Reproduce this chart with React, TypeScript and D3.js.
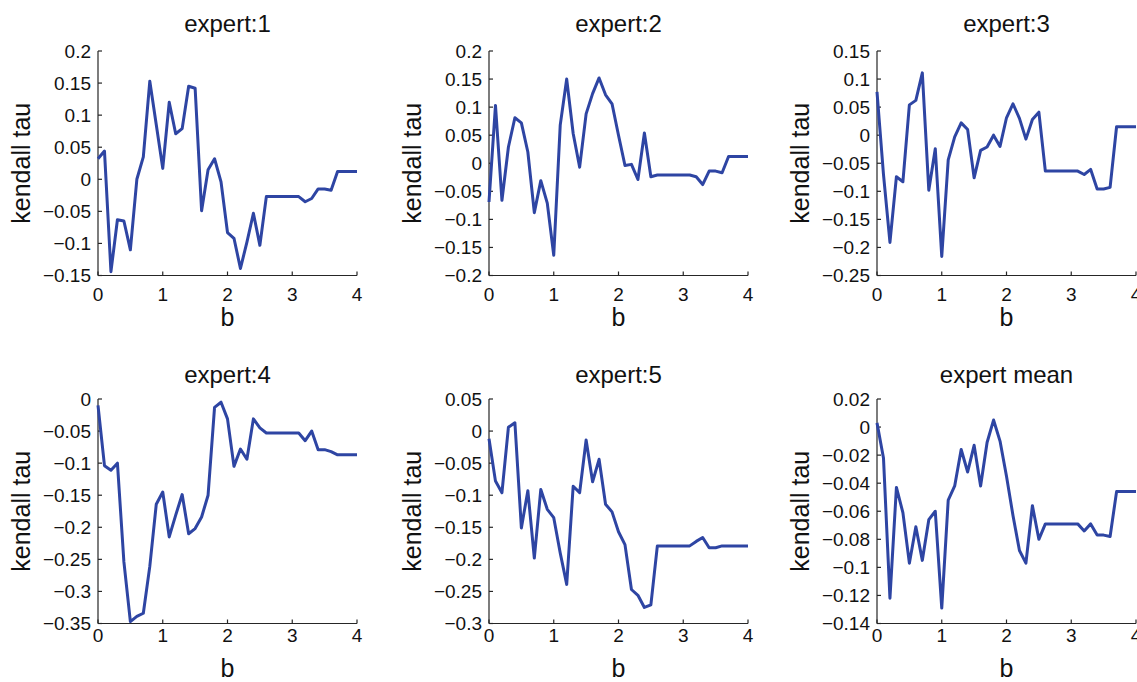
import React from 'react';
import * as d3 from 'd3';

// b values (x) shared by all panels
const bValues = [
  0, 0.1, 0.2, 0.3, 0.4, 0.5, 0.6, 0.7, 0.8, 0.9, 1.0,
  1.1, 1.2, 1.3, 1.4, 1.5, 1.6, 1.7, 1.8, 1.9, 2.0,
  2.1, 2.2, 2.3, 2.4, 2.5, 2.6, 2.7, 2.8, 2.9, 3.0,
  3.1, 3.2, 3.3, 3.4, 3.5, 3.6, 3.7, 3.8, 3.9, 4.0,
];
const xTicks = [0, 1, 2, 3, 4];

// kendall tau per expert
const expert1 = [
  0.032, 0.044, -0.144, -0.063, -0.065, -0.11, 0.0, 0.035, 0.153, 0.085, 0.017,
  0.12, 0.071, 0.079, 0.145, 0.142, -0.049, 0.015, 0.032, -0.004, -0.083,
  -0.092, -0.139, -0.098, -0.053, -0.103, -0.027, -0.027, -0.027, -0.027, -0.027,
  -0.027, -0.035, -0.03, -0.015, -0.015, -0.017, 0.012, 0.012, 0.012, 0.012,
];
const expert2 = [
  -0.069, 0.103, -0.066, 0.029, 0.081, 0.072, 0.02, -0.088, -0.031, -0.071, -0.164,
  0.068, 0.15, 0.053, -0.007, 0.088, 0.124, 0.152, 0.122, 0.106, 0.05,
  -0.004, -0.002, -0.029, 0.054, -0.024, -0.021, -0.021, -0.021, -0.021, -0.021,
  -0.021, -0.024, -0.038, -0.014, -0.014, -0.017, 0.012, 0.012, 0.012, 0.012,
];
const expert3 = [
  0.077, -0.07, -0.191, -0.074, -0.083, 0.054, 0.062, 0.111, -0.098, -0.024, -0.216,
  -0.044, -0.003, 0.022, 0.01, -0.076, -0.027, -0.021, 0.0, -0.02, 0.031,
  0.056, 0.03, -0.007, 0.028, 0.041, -0.064, -0.064, -0.064, -0.064, -0.064,
  -0.064, -0.07, -0.061, -0.096, -0.096, -0.093, 0.015, 0.015, 0.015, 0.015,
];
const expert4 = [
  -0.01, -0.104, -0.111, -0.1, -0.254, -0.347, -0.339, -0.334, -0.261, -0.164, -0.145,
  -0.215, -0.181, -0.149, -0.21, -0.202, -0.184, -0.15, -0.013, -0.005, -0.031,
  -0.105, -0.078, -0.094, -0.031, -0.045, -0.053, -0.053, -0.053, -0.053, -0.053,
  -0.053, -0.065, -0.05, -0.079, -0.079, -0.082, -0.087, -0.087, -0.087, -0.087,
];
const expert5 = [
  -0.012, -0.078, -0.096, 0.006, 0.013, -0.151, -0.093, -0.198, -0.091, -0.122, -0.135,
  -0.19, -0.239, -0.086, -0.096, -0.014, -0.079, -0.044, -0.114, -0.126, -0.157,
  -0.177, -0.247, -0.256, -0.275, -0.271, -0.179, -0.179, -0.179, -0.179, -0.179,
  -0.179, -0.172, -0.166, -0.182, -0.182, -0.179, -0.179, -0.179, -0.179, -0.179,
];
const expertMean = [
  0.003, -0.022, -0.122, -0.043, -0.061, -0.097, -0.071, -0.095, -0.066, -0.06, -0.129,
  -0.052, -0.042, -0.016, -0.032, -0.013, -0.042, -0.011, 0.005, -0.01, -0.035,
  -0.063, -0.088, -0.097, -0.056, -0.08, -0.069, -0.069, -0.069, -0.069, -0.069,
  -0.069, -0.074, -0.069, -0.077, -0.077, -0.078, -0.046, -0.046, -0.046, -0.046,
];

// y tick labels per panel
const yTicks1 = [-0.15, -0.1, -0.05, 0, 0.05, 0.1, 0.15, 0.2];
const yTicks2 = [-0.2, -0.15, -0.1, -0.05, 0, 0.05, 0.1, 0.15, 0.2];
const yTicks3 = [-0.25, -0.2, -0.15, -0.1, -0.05, 0, 0.05, 0.1, 0.15];
const yTicks4 = [-0.35, -0.3, -0.25, -0.2, -0.15, -0.1, -0.05, 0];
const yTicks5 = [-0.3, -0.25, -0.2, -0.15, -0.1, -0.05, 0, 0.05];
const yTicks6 = [-0.14, -0.12, -0.1, -0.08, -0.06, -0.04, -0.02, 0, 0.02];

const titles = ['expert:1', 'expert:2', 'expert:3', 'expert:4', 'expert:5', 'expert mean'];
const series = [expert1, expert2, expert3, expert4, expert5, expertMean];
const yTickSets = [yTicks1, yTicks2, yTicks3, yTicks4, yTicks5, yTicks6];

// layout
const W = 1137;
const H = 682;
const colLeft = [98, 489, 877];
const rowTop = [51, 399];
const plotW = 259;
const plotH = 224.5;
const titleDy = [19, 16.5];
const tickDy = [25, 18];
const xLabelDy = [50, 53];

const FONT = '"Liberation Sans", Arial, Helvetica, sans-serif';
const LINE = '#2e45a3';
const AXIS = '#262626';

const fmt = (v: number) => {
  if (Math.abs(v) < 1e-9) return '0';
  const s = String(+v.toFixed(3));
  return s.replace('-', '\u2212');
};

const Panel = ({ idx }: { idx: number }) => {
  const col = idx % 3;
  const row = Math.floor(idx / 3);
  const left = colLeft[col];
  const top = rowTop[row];
  const ticks = yTickSets[idx];
  const values = series[idx];

  const x = d3.scaleLinear().domain([0, 4]).range([left, left + plotW]);
  const y = d3
    .scaleLinear()
    .domain([ticks[0], ticks[ticks.length - 1]])
    .range([top + plotH, top]);

  const line = d3
    .line<number>()
    .x((_, i) => x(bValues[i]))
    .y((d) => y(d));

  const bottom = top + plotH;
  const cx = left + plotW / 2;

  return (
    <g>
      <text
        x={cx}
        y={top - titleDy[row]}
        textAnchor="middle"
        fontSize={24}
        fontFamily={FONT}
        fill="#111"
      >
        {titles[idx]}
      </text>

      {/* axes lines */}
      <line x1={left} x2={left} y1={top} y2={bottom} stroke={AXIS} strokeWidth={1.2} />
      <line x1={left} x2={left + plotW} y1={bottom} y2={bottom} stroke={AXIS} strokeWidth={1.2} />

      {/* y ticks */}
      {ticks.map((t) => (
        <g key={'y' + t}>
          <line x1={left} x2={left + 4} y1={y(t)} y2={y(t)} stroke={AXIS} strokeWidth={1.2} />
          <text
            x={left - 7}
            y={y(t)}
            dy="0.36em"
            textAnchor="end"
            fontSize={19}
            fontFamily={FONT}
            fill="#111"
          >
            {fmt(t)}
          </text>
        </g>
      ))}

      {/* x ticks */}
      {xTicks.map((t) => (
        <g key={'x' + t}>
          <line x1={x(t)} x2={x(t)} y1={bottom} y2={bottom - 4} stroke={AXIS} strokeWidth={1.2} />
          <text
            x={x(t)}
            y={bottom + tickDy[row]}
            textAnchor="middle"
            fontSize={19}
            fontFamily={FONT}
            fill="#111"
          >
            {t}
          </text>
        </g>
      ))}

      <text
        x={cx}
        y={bottom + xLabelDy[row]}
        textAnchor="middle"
        fontSize={25}
        fontFamily={FONT}
        fill="#111"
      >
        b
      </text>
      <text
        transform={`translate(${left - 68},${top + plotH / 2}) rotate(-90)`}
        textAnchor="middle"
        fontSize={25}
        fontFamily={FONT}
        fill="#111"
      >
        kendall tau
      </text>

      <path
        d={line(values) || ''}
        fill="none"
        stroke={LINE}
        strokeWidth={3}
        strokeLinejoin="round"
        strokeLinecap="butt"
      />
    </g>
  );
};

export default function App() {
  return (
    <div
      style={{
        position: 'absolute',
        left: 0,
        top: 0,
        width: W,
        height: H,
        overflow: 'hidden',
        background: '#fff',
      }}
    >
      <svg width={W} height={H} style={{ display: 'block' }}>
        <rect width={W} height={H} fill="#fff" />
        {titles.map((_, i) => (
          <Panel key={i} idx={i} />
        ))}
      </svg>
    </div>
  );
}
